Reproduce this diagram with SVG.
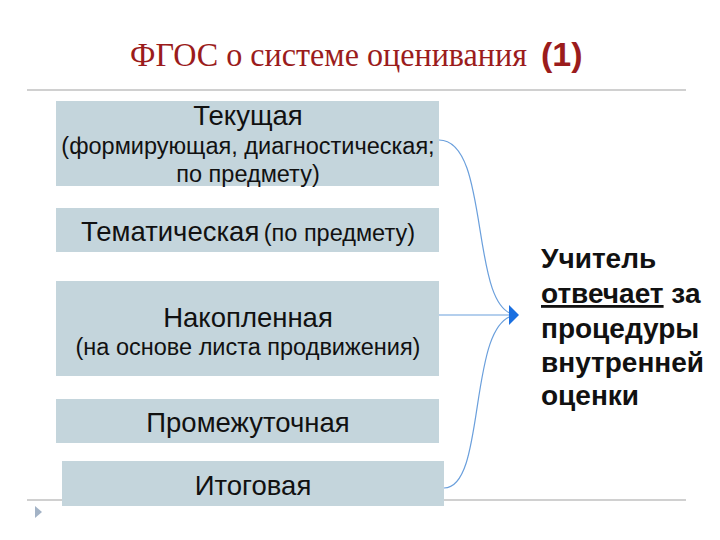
<svg xmlns="http://www.w3.org/2000/svg" width="720" height="540" viewBox="0 0 720 540">
<style>
.box{fill:#c4d5dc}
.t{font-family:"Liberation Sans",Arial,sans-serif;fill:#111;text-anchor:middle}
.big{font-size:27.5px}
.sm{font-size:23.5px}
.rule{stroke:#d0d0d0;stroke-width:2}
.conn{fill:none;stroke:#6a9fdc;stroke-width:1.2}
.rt{font-family:"Liberation Sans",Arial,sans-serif;font-weight:bold;font-size:28px;fill:#111}
</style>
<defs>
<marker id="ah" markerWidth="10" markerHeight="20" refX="9" refY="10" orient="auto" markerUnits="userSpaceOnUse">
<path d="M0,0 L10,10 L0,20 Z" fill="#1a6fe0"/>
</marker>
</defs>
<rect width="720" height="540" fill="#fff"/>
<text x="130" y="66" font-family="'Liberation Serif','Times New Roman',serif" font-size="33" fill="#9b1c1c"><tspan textLength="397" lengthAdjust="spacingAndGlyphs">ФГОС о системе оценивания</tspan> <tspan x="541" font-family="'Liberation Sans',Arial,sans-serif" font-weight="bold" font-size="34">(1)</tspan></text>
<line class="rule" x1="27" y1="90" x2="686" y2="90"/>
<line class="rule" x1="27" y1="500" x2="686" y2="500"/>
<path d="M35,506 L42,512 L35,518 Z" fill="#a3b3c6"/>
<g id="node-tekushaya">
<rect class="box" x="56" y="101" width="383" height="85"/>
<text class="t big" x="248" y="125">Текущая</text>
<text class="t sm" x="248" y="154">(формирующая, диагностическая;</text>
<text class="t sm" x="248" y="182">по предмету)</text>
</g>
<g id="node-tematicheskaya">
<rect class="box" x="56" y="208" width="383" height="44"/>
<text class="t" x="248" y="241"><tspan class="big">Тематическая</tspan> <tspan class="sm">(по предмету)</tspan></text>
</g>
<g id="node-nakoplennaya">
<rect class="box" x="56" y="281" width="383" height="95"/>
<text class="t big" x="248" y="327">Накопленная</text>
<text class="t sm" x="248" y="355">(на основе листа продвижения)</text>
</g>
<g id="node-promezhutochnaya">
<rect class="box" x="56" y="399" width="383" height="44"/>
<text class="t big" x="248" y="432">Промежуточная</text>
</g>
<g id="node-itogovaya">
<rect class="box" x="62" y="461" width="382" height="45"/>
<text class="t big" x="253" y="495">Итоговая</text>
</g>
<g id="connectors">
<path class="conn" d="M439,140 C492,140 468,315 518,315"/>
<path class="conn" d="M439,315 L518,315"/>
<path class="conn" d="M444,488 C488,488 466,315 518,315" marker-end="url(#ah)"/>
</g>
<g id="node-uchitel">
<text class="rt" x="541" y="268">Учитель</text>
<text class="rt" x="541" y="303"><tspan text-decoration="underline">отвечает</tspan> за</text>
<text class="rt" x="541" y="338">процедуры</text>
<text class="rt" x="541" y="372">внутренней</text>
<text class="rt" x="541" y="405">оценки</text>
</g>
</svg>
